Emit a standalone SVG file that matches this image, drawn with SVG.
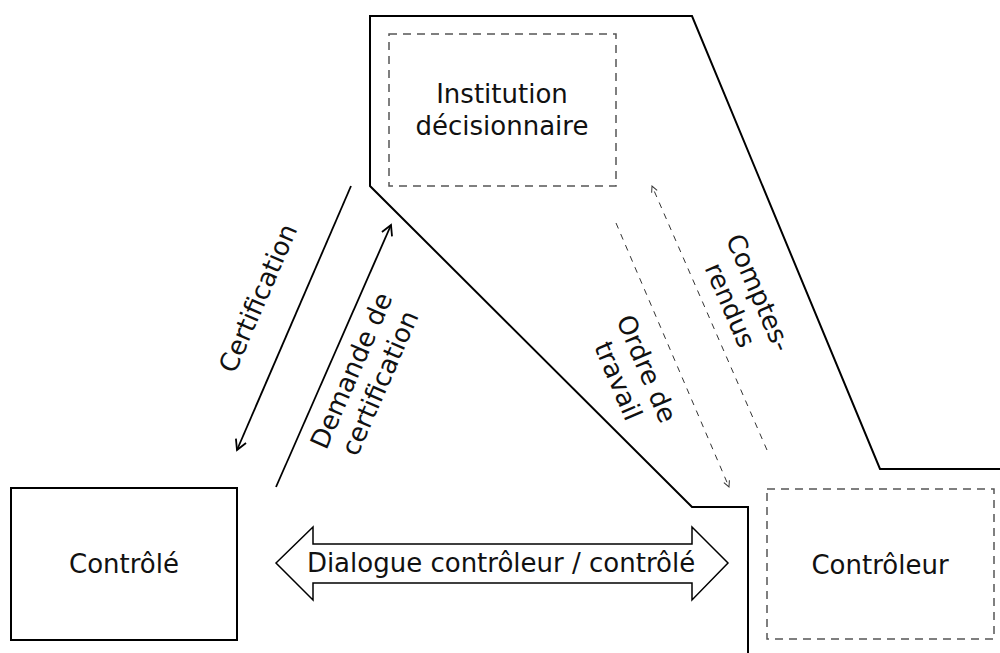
<svg xmlns="http://www.w3.org/2000/svg" width="1000" height="653" viewBox="0 0 1000 653">
<style>
  text { font-family: "DejaVu Sans", "Liberation Sans", sans-serif; font-size: 26px; fill: #111; text-anchor: middle; }
  .solid { fill: none; stroke: #000; stroke-width: 2; }
  .dashbox { fill: none; stroke: #555; stroke-width: 1.5; stroke-dasharray: 8 6; }
  .conn { fill: none; stroke: #000; stroke-width: 1.8; }
  .dconn { fill: none; stroke: #333; stroke-width: 1; stroke-dasharray: 6 6; }
</style>
<defs>
  <marker id="arr" markerUnits="userSpaceOnUse" markerWidth="14" markerHeight="14" refX="11" refY="6" orient="auto" viewBox="0 0 14 12">
    <path d="M1,0.5 L11,6 L1,11.5" fill="none" stroke="#000" stroke-width="1.8"/>
  </marker>
  <marker id="darr" markerUnits="userSpaceOnUse" markerWidth="8" markerHeight="8" refX="6.5" refY="3.5" orient="auto" viewBox="0 0 8 7">
    <path d="M0.5,0.5 L6.5,3.5 L0.5,6.5" fill="none" stroke="#333" stroke-width="1"/>
  </marker>
</defs>

<g id="boundary">
  <path class="solid" d="M1000,469 L880,469 L692,16 L370,16 L370,186 L692,507 L748,507 L748,653"/>
</g>

<g id="institution">
  <rect class="dashbox" x="389" y="34" width="227" height="152"/>
  <text x="502" y="103">Institution</text>
  <text x="502" y="135">décisionnaire</text>
</g>

<g id="controle">
  <rect class="solid" x="11" y="488" width="226" height="152"/>
  <text x="124" y="573">Contrôlé</text>
</g>

<g id="controleur">
  <rect class="dashbox" x="767" y="489" width="227" height="150"/>
  <text x="880" y="574">Contrôleur</text>
</g>

<g id="connectors">
  <line class="conn" x1="351" y1="186" x2="237" y2="450" marker-end="url(#arr)"/>
  <line class="conn" x1="276" y1="487" x2="391" y2="225" marker-end="url(#arr)"/>
  <line class="dconn" x1="616" y1="223" x2="729" y2="487" marker-end="url(#darr)"/>
  <line class="dconn" x1="767" y1="450" x2="652" y2="186" marker-end="url(#darr)"/>
  <g id="dialogue">
    <path d="M276,563 L313,527 L313,544 L692,544 L692,527 L728,563 L692,600 L692,583 L313,583 L313,600 Z" fill="#fff" stroke="#000" stroke-width="1.5"/>
    <text x="501" y="572">Dialogue contrôleur / contrôlé</text>
  </g>
</g>

<g id="labels">
  <g transform="translate(258,298) rotate(-66.6)">
    <text x="0" y="9">Certification</text>
  </g>
  <g transform="translate(366,377) rotate(-66.4)">
    <text x="0" y="-7">Demande de</text>
    <text x="0" y="24">certification</text>
  </g>
  <g transform="translate(632,375) rotate(66.8)">
    <text x="0" y="-7">Ordre de</text>
    <text x="0" y="24">travail</text>
  </g>
  <g transform="translate(744,299) rotate(66.5)">
    <text x="0" y="-7">Comptes-</text>
    <text x="0" y="24">rendus</text>
  </g>
</g>
</svg>
